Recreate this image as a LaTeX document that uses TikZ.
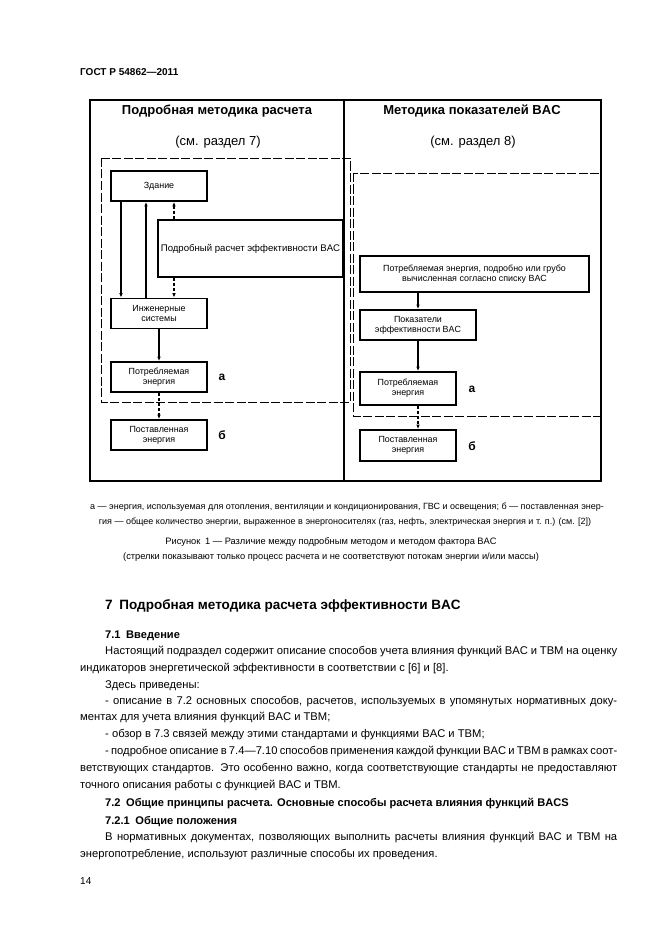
\documentclass[tikz,border=0pt]{standalone}
\usepackage{fontspec}
\setmainfont{Liberation Sans}
\usepackage{tikz}
\usetikzlibrary{arrows.meta}

\begin{document}
\begin{tikzpicture}[x=1pt, y=-1pt,
    frame/.style={line width=1.8pt},
    zone/.style={line width=0.8pt, dash pattern=on 9pt off 2.5pt},
    blk/.style={draw, line width=1.6pt, minimum width=96pt, minimum height=30pt,
      align=center, inner sep=1pt, font=\fontsize{8.9}{9.8}\selectfont},
    flow/.style={line width=1.3pt, -{Latex[length=4.5pt, width=3.5pt]}},
    calcflow/.style={flow, dash pattern=on 3pt off 2pt},
    tag/.style={font=\fontsize{13}{13}\selectfont\bfseries},
    ref/.style={font=\fontsize{13}{13}\selectfont},
    body/.style={anchor=base west, inner sep=0pt, font=\fontsize{11.2}{13}\selectfont},
    bodyb/.style={body, font=\fontsize{11.1}{13}\selectfont\bfseries},
    note/.style={inner sep=0pt, font=\fontsize{9}{10}\selectfont},
    capt/.style={note, font=\fontsize{9.3}{11}\selectfont},
  ]
  \useasboundingbox[fill=white] (0,0) rectangle (661,936);

  \node[anchor=base west, inner sep=0pt, font=\fontsize{10}{11}\selectfont\bfseries] (gost) at (80,76) {ГОСТ Р 54862—2011};

  % outer frame
  \draw[frame] (90,100) rectangle (601,481);
  \draw[frame] (344,100) -- (344,481);

  \node[tag] (lhead) at (217,111) {Подробная методика расчета};
  \node[ref] (lref) at (218,142) {(см. раздел 7)};
  \node[tag] (rhead) at (472,111) {Методика показателей BAC};
  \node[ref] (rref) at (473,142) {(см. раздел 8)};

  % dashed zones
  \draw[zone] (101,158) rectangle (350,402);
  \draw[zone] (353,173) rectangle (601,416);

  % detailed method
  \node[blk] (bld) at (159,186) {Здание};
  \node[blk, minimum width=185pt, minimum height=57pt, font=\fontsize{9.6}{10}\selectfont] (calc) at (250.5,248.5) {Подробный расчет эффективности BAC};
  \node[blk] (eng) at (159,313.5) {Инженерные\\системы};
  \node[blk] (used) at (159,377) {Потребляемая\\энергия};
  \node[blk] (dlv) at (159,435) {Поставленная\\энергия};
  \node[tag, font=\fontsize{12}{12}\selectfont\bfseries] (ua) at (222,377) {а};
  \node[tag, font=\fontsize{12}{12}\selectfont\bfseries] (ub) at (222,435) {б};

  \draw[flow] ([xshift=-38pt]bld.south) -- ([xshift=-38pt]eng.north);
  \draw[flow] ([xshift=-13pt]eng.north) -- ([xshift=-13pt]bld.south);
  \draw[calcflow] ([xshift=15pt]bld.south |- calc.north) -- ([xshift=15pt]bld.south);
  \draw[calcflow] ([xshift=15pt]eng.north |- calc.south) -- ([xshift=15pt]eng.north);
  \draw[flow] (eng) -- (used);
  \draw[calcflow] (used) -- (dlv);

  % BAC factor method
  \node[blk, minimum width=229pt, minimum height=36pt] (list) at (474.5,274) {Потребляемая энергия, подробно или грубо\\вычисленная согласно списку BAC};
  \node[blk, minimum width=116pt] (ind) at (418,325) {Показатели\\эффективности BAC};
  \node[blk, minimum height=33pt] (used2) at (408,388.5) {Потребляемая\\энергия};
  \node[blk, minimum height=31pt] (dlv2) at (408,445.5) {Поставленная\\энергия};
  \node[tag, font=\fontsize{12}{12}\selectfont\bfseries] (va) at (472,389) {а};
  \node[tag, font=\fontsize{12}{12}\selectfont\bfseries] (vb) at (472,446) {б};

  \draw[flow] (ind.north |- list.south) -- (ind.north);
  \draw[flow] (ind.south) -- (ind.south |- used2.north);
  \draw[calcflow] (ind.south |- used2.south) -- (ind.south |- dlv2.north);

  % legend and caption
  \node[note] (key1) at (347,507) {а — энергия, используемая для отопления, вентиляции и кондиционирования, ГВС и освещения; б — поставленная энер-};
  \node[note] (key2) at (345,522) {гия — общее количество энергии, выраженное в энергоносителях (газ, нефть, электрическая энергия и т. п.) (см. [2])};
  \node[capt] (cap1) at (331,542) {Рисунок\enspace1 — Различие между подробным методом и методом фактора BAC};
  \node[capt] (cap2) at (331,557) {(стрелки показывают только процесс расчета и не соответствуют потокам энергии и/или массы)};

  % section text
  \node[bodyb, font=\fontsize{13.5}{15}\selectfont\bfseries] (sec) at (105,609) {7\enspace Подробная методика расчета эффективности BAC};
  \node[bodyb] (s71) at (105,638) {7.1\enspace Введение};
  \node[body] (p1) at (105,654) {\makebox[512pt][s]{Настоящий подраздел содержит описание способов учета влияния функций BAC и TBM на оценку}};
  \node[body] (p2) at (80,671) {индикаторов энергетической эффективности в соответствии с [6] и [8].};
  \node[body] (p3) at (105,688) {Здесь приведены:};
  \node[body] (p4) at (105,704) {\makebox[512pt][s]{- описание в 7.2 основных способов, расчетов, используемых в упомянутых нормативных доку-}};
  \node[body] (p5) at (80,720) {ментах для учета влияния функций BAC и TBM;};
  \node[body] (p6) at (105,737) {- обзор в 7.3 связей между этими стандартами и функциями BAC и TBM;};
  \node[body] (p7) at (105,754) {\makebox[512pt][s]{- подробное описание в 7.4—7.10 способов применения каждой функции BAC и TBM в рамках соот-}};
  \node[body] (p8) at (80,771) {\makebox[537pt][s]{ветствующих стандартов. Это особенно важно, когда соответствующие стандарты не предоставляют}};
  \node[body] (p9) at (80,788) {точного описания работы с функцией BAC и TBM.};
  \node[bodyb] (s72) at (105,806) {7.2\enspace Общие принципы расчета. Основные способы расчета влияния функций BACS};
  \node[bodyb] (s721) at (105,824) {7.2.1\enspace Общие положения};
  \node[body] (p10) at (105,840) {\makebox[512pt][s]{В нормативных документах, позволяющих выполнить расчеты влияния функций BAC и TBM на}};
  \node[body] (p11) at (80,857) {энергопотребление, используют различные способы их проведения.};
  \node[body, font=\fontsize{10}{11}\selectfont] (pg) at (80,884) {14};
\end{tikzpicture}
\end{document}
